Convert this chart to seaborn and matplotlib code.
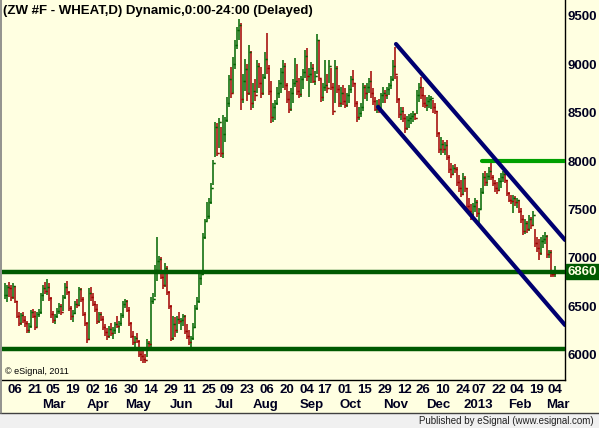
import matplotlib
matplotlib.use("Agg")
import numpy as np
import pandas as pd
import seaborn as sns
import matplotlib.pyplot as plt
from matplotlib.patches import Rectangle
import matplotlib.transforms as mtransforms

# daily wheat bars, 30 Jan 2012 .. 04 Mar 2013 (one entry per trading day)
hi = [6740, 6720,
      6750, 6720, 6740, 6710, 6560, 6440, 6430, 6440, 6400, 6350, 6330, 6460, 6470, 6450, 6440, 6470, 6640, 6720, 6750, 6780,
      6740, 6600, 6450, 6420, 6480, 6540, 6530, 6620, 6740, 6760, 6660, 6500, 6460, 6560, 6580, 6700, 6690, 6600, 6440, 6340, 6690, 6700,
      6640, 6560, 6530, 6440, 6440, 6400, 6320, 6280, 6300, 6330, 6290, 6340, 6400, 6350, 6430, 6560, 6580, 6570, 6490, 6340,
      6250, 6200, 6230, 6150, 6080, 6040, 6010, 6160, 6140, 6600, 6640, 6930, 7220, 7020, 7010, 6870, 6950, 6920, 6660, 6520, 6400, 6390,
      6400, 6440, 6380, 6420, 6410, 6320, 6260, 6200, 6330, 6520, 6600, 6830, 6850, 7260, 7400, 7580, 7620, 7770, 8010, 8400, 8390,
      8440, 8350, 8470, 8450, 8660, 8890, 8970, 9070, 9250, 9380, 9465, 9420, 8900, 9050, 9000, 9200, 9130, 8800, 8850, 9040, 9010,
      8970, 8900, 9120, 9320, 8990, 8830, 8600, 8630, 8760, 8840, 8960, 9040, 9010, 8800, 8720, 8750, 8850, 9060, 9000, 8860, 8880, 8950, 9140,
      9170, 8960, 9020, 9000, 8930, 9310, 9250, 8850, 8800, 9040, 8900, 9040, 8960, 8800, 9040, 8980, 8780, 8760, 8780,
      8750, 8700, 8780, 8880, 8940, 8800, 8620, 8560, 8600, 8800, 8780, 8800, 8860, 8930, 8750, 8660, 8630, 8640, 8700, 8760, 8730, 8760, 8800,
      8880, 9040, 9175, 8880, 8650, 8560, 8560, 8480, 8460, 8480, 8500, 8520, 8500, 8730, 8800, 8870, 8760, 8680, 8660, 8680, 8670,
      8630, 8600, 8520, 8300, 8250, 8220, 8200, 8220, 8060, 7980, 7960, 7970, 7940, 7860, 7800, 7880, 7850, 7720, 7620, 7560,
      7570, 7620, 7600, 7520, 7720, 7880, 7900, 7880, 7940, 8000, 7860, 7800, 7780, 7820, 7880, 7900, 7900, 7800, 7680, 7650, 7650,
      7640, 7620, 7600, 7520, 7440, 7400, 7380, 7440, 7420, 7480, 7300, 7220, 7200, 7220, 7240, 7270, 7240, 7080, 7080,
      6860, 6920]
lo = [6580, 6550,
      6600, 6560, 6580, 6540, 6380, 6300, 6310, 6330, 6290, 6230, 6230, 6280, 6380, 6260, 6290, 6390, 6420, 6560, 6630, 6620,
      6560, 6380, 6330, 6320, 6380, 6420, 6410, 6450, 6580, 6620, 6450, 6360, 6340, 6420, 6480, 6500, 6550, 6400, 6300, 6120, 6150, 6560,
      6500, 6440, 6320, 6330, 6350, 6260, 6200, 6150, 6180, 6200, 6160, 6220, 6280, 6230, 6300, 6380, 6480, 6440, 6300, 6180,
      6100, 6080, 6120, 5980, 5940, 5920, 5920, 5980, 6040, 6070, 6530, 6600, 6760, 6860, 6780, 6680, 6700, 6620, 6470, 6140, 6150, 6190,
      6230, 6320, 6260, 6300, 6220, 6160, 6100, 6070, 6150, 6280, 6460, 6540, 6720, 6820, 7200, 7380, 7400, 7560, 7750, 8040, 8050,
      8130, 8040, 8030, 8200, 8400, 8560, 8650, 8700, 8950, 9150, 9250, 8525, 8600, 8720, 8620, 8680, 8530, 8550, 8620, 8700, 8750,
      8650, 8680, 8850, 8900, 8680, 8390, 8400, 8420, 8580, 8650, 8700, 8750, 8730, 8600, 8500, 8520, 8600, 8760, 8680, 8650, 8660, 8740, 8860,
      8820, 8660, 8800, 8800, 8780, 8900, 8820, 8610, 8620, 8720, 8700, 8800, 8730, 8470, 8600, 8700, 8560, 8560, 8580,
      8550, 8560, 8600, 8700, 8760, 8560, 8400, 8420, 8450, 8520, 8640, 8620, 8700, 8650, 8580, 8520, 8500, 8500, 8540, 8600, 8600, 8640, 8680,
      8740, 8820, 8850, 8600, 8440, 8420, 8400, 8290, 8320, 8340, 8380, 8400, 8420, 8480, 8610, 8640, 8560, 8550, 8520, 8550, 8540,
      8500, 8480, 8250, 8080, 8060, 8080, 8060, 8010, 7880, 7820, 7860, 7880, 7740, 7680, 7630, 7650, 7680, 7500, 7460, 7390,
      7420, 7470, 7420, 7360, 7500, 7660, 7740, 7740, 7800, 7800, 7740, 7680, 7660, 7690, 7720, 7780, 7770, 7640, 7580, 7560, 7460,
      7540, 7520, 7460, 7360, 7240, 7250, 7260, 7280, 7300, 7330, 7110, 7060, 6980, 7030, 7100, 7140, 7000, 7000, 6800,
      6800, 6800]
cl = [6620, 6700,
      6690, 6600, 6710, 6560, 6400, 6330, 6410, 6360, 6330, 6260, 6300, 6440, 6400, 6290, 6420, 6440, 6620, 6690, 6660, 6700,
      6590, 6420, 6360, 6400, 6450, 6500, 6440, 6600, 6700, 6650, 6480, 6400, 6430, 6530, 6520, 6680, 6580, 6420, 6330, 6160, 6640, 6600,
      6530, 6470, 6350, 6420, 6370, 6290, 6240, 6200, 6270, 6230, 6260, 6320, 6300, 6330, 6410, 6530, 6560, 6460, 6330, 6200,
      6130, 6170, 6140, 6010, 5990, 5960, 5950, 6120, 6110, 6560, 6580, 6880, 6970, 6990, 6800, 6720, 6900, 6650, 6500, 6180, 6320, 6260,
      6370, 6350, 6360, 6400, 6250, 6200, 6130, 6170, 6290, 6480, 6560, 6790, 6830, 7220, 7380, 7430, 7580, 7720, 7980, 8350, 8080,
      8400, 8080, 8280, 8420, 8600, 8850, 8700, 9000, 9200, 9350, 9400, 8640, 8830, 8950, 8700, 9120, 8600, 8720, 8680, 8980, 8800,
      8700, 8870, 9050, 8960, 8720, 8450, 8560, 8600, 8700, 8800, 8920, 8980, 8780, 8640, 8540, 8700, 8800, 8820, 8720, 8690, 8850, 8920, 9080,
      8880, 8900, 8960, 8830, 8880, 9250, 8860, 8660, 8760, 8780, 8750, 8980, 8760, 8520, 8960, 8740, 8600, 8700, 8620,
      8580, 8680, 8740, 8850, 8800, 8600, 8450, 8500, 8560, 8760, 8700, 8760, 8820, 8700, 8620, 8540, 8580, 8530, 8680, 8700, 8680, 8740, 8780,
      8850, 8980, 8900, 8640, 8480, 8520, 8440, 8340, 8420, 8440, 8460, 8480, 8440, 8680, 8760, 8680, 8600, 8580, 8620, 8640, 8650,
      8560, 8520, 8290, 8120, 8180, 8120, 8160, 8040, 7920, 7870, 7930, 7920, 7780, 7720, 7660, 7820, 7720, 7540, 7480, 7450,
      7540, 7580, 7460, 7500, 7680, 7840, 7780, 7850, 7900, 7830, 7770, 7720, 7700, 7790, 7840, 7870, 7800, 7670, 7600, 7590, 7620,
      7580, 7600, 7480, 7400, 7280, 7360, 7300, 7400, 7340, 7440, 7150, 7100, 7050, 7180, 7200, 7230, 7040, 7060, 6840,
      6830, 6860]

holidays = ["2012-02-20", "2012-04-06", "2012-05-28", "2012-07-04", "2012-09-03",
            "2012-11-22", "2012-12-25", "2013-01-01", "2013-01-21", "2013-02-18"]

tick_dates = ["2012-02-06", "2012-02-21", "2012-03-05", "2012-03-19", "2012-04-02", "2012-04-16",
              "2012-04-30", "2012-05-14", "2012-05-29", "2012-06-11", "2012-06-25", "2012-07-09",
              "2012-07-23", "2012-08-06", "2012-08-20", "2012-09-04", "2012-09-17", "2012-10-01",
              "2012-10-15", "2012-10-29", "2012-11-12", "2012-11-26", "2012-12-10", "2012-12-24",
              "2013-01-07", "2013-01-22", "2013-02-04", "2013-02-19", "2013-03-04"]
month_keys = ["2012-03", "2012-04", "2012-05", "2012-06", "2012-07", "2012-08", "2012-09",
              "2012-10", "2012-11", "2012-12", "2013-01", "2013-02", "2013-03"]
month_names = ["Mar", "Apr", "May", "Jun", "Jul", "Aug", "Sep", "Oct", "Nov", "Dec", "2013", "Feb", "Mar"]

# drawn studies: support/resistance levels and the down channel (bar index, price)
support_hi = 6860
support_lo = 6065
resist = 8000
resist_start = 238.5
chan_x = [195.5, 280]
chan_upper = [9206, 7186]
chan_x_lo = [186.5, 280]
chan_lower = [8557, 6309]

dates = pd.bdate_range("2012-01-30", "2013-03-04", freq="C", holidays=holidays)
assert len(dates) == len(cl) == len(hi) == len(lo)

bg = "#FFFFE1"
up_col = "#006400"
dn_col = "#A00000"

sns.set_style("white", {"axes.facecolor": bg})
plt.rcParams["font.family"] = ["Liberation Sans", "DejaVu Sans"]
plt.rcParams["font.weight"] = "bold"

fig = plt.figure(figsize=(5.99, 4.28), dpi=100, facecolor=bg)
ax = fig.add_axes([2 / 599, 1 - 380 / 428, 563 / 599, 380 / 428])
ax.set_facecolor(bg)

x = np.arange(len(cl))
c = np.array(cl)
op = np.r_[c[0], c[:-1]]
colors = np.where(c >= op, up_col, dn_col)
ax.vlines(x, lo, hi, colors=colors, lw=1.1, zorder=3)
ax.hlines(op, x - 0.75, x, colors=colors, lw=1.0, zorder=3)
ax.hlines(c, x, x + 0.75, colors=colors, lw=1.0, zorder=3)

ax.axhline(support_hi, color="#005A00", lw=3.2, zorder=4)
ax.axhline(support_lo, color="#005A00", lw=3.2, zorder=4)
ax.plot([resist_start, 281], [resist, resist], color="#00A000", lw=3.0, zorder=4)
sns.lineplot(x=chan_x, y=chan_upper, color="#000070", lw=3.0, ax=ax, zorder=5)
sns.lineplot(x=chan_x_lo, y=chan_lower, color="#000070", lw=3.0, ax=ax, zorder=5)

ax.set_xlim(-1.5, 280)
ax.set_ylim(5742, 9660)

for s in ["top", "left"]:
    ax.spines[s].set_visible(False)
for s in ["bottom", "right"]:
    ax.spines[s].set_color("black")
    ax.spines[s].set_linewidth(1.0)

ax.yaxis.tick_right()
ax.set_yticks([6000, 6500, 7000, 7500, 8000, 8500, 9000, 9500])
ax.set_yticklabels(["6000", "6500", "7000", "7500", "8000", "8500", "9000", "9500"])
ax.tick_params(axis="y", length=0, pad=2, labelsize=9.5, labelcolor="#000020")

ym = dates.strftime("%Y-%m")
month_first = [int(np.argmax(ym == key)) for key in month_keys]

tick_idx = [dates.get_loc(pd.Timestamp(d)) for d in tick_dates]
ax.set_xticks(tick_idx)
ax.set_xticklabels([pd.Timestamp(d).strftime("%d") for d in tick_dates])
ax.tick_params(axis="x", which="major", length=0, pad=3, labelsize=9.5, labelcolor="#000020")
ax.set_xticks([m - 1.5 for m in month_first], minor=True)
ax.tick_params(axis="x", which="minor", length=3, width=1, direction="out", color="black")
ax.set_xlabel("")
ax.set_ylabel("")

trans = mtransforms.blended_transform_factory(ax.transData, ax.transAxes)
for first, name in zip(month_first, month_names):
    ax.text(first + 2.5, -25 / 380, name, transform=trans, ha="center", va="center",
            fontsize=9.5, fontweight="bold", color="#000020", clip_on=False)

ax.text(0.002, 1 - 11 / 380, "(ZW #F - WHEAT,D) Dynamic,0:00-24:00 (Delayed)", transform=ax.transAxes,
        ha="left", va="center", fontsize=9.5, fontweight="bold", color="black")
ax.text(3 / 563, 8 / 380, "\u00a9 eSignal, 2011", transform=ax.transAxes, ha="left", va="center",
        fontsize=6.5, fontweight="normal", color="black")

ytr = mtransforms.blended_transform_factory(ax.transAxes, ax.transData)
ax.text(1 + 3 / 563, support_hi, str(support_hi), transform=ytr, ha="left", va="center",
        fontsize=9.5, fontweight="bold", color=bg, clip_on=False,
        bbox=dict(boxstyle="square,pad=0.12", fc="#005A00", ec="#005A00"))

# footer strip and border
fig.patches.append(Rectangle((0, 0), 1, 15 / 428, transform=fig.transFigure, fc="#F0F0F0",
                             ec="none", zorder=0))
fig.lines.append(plt.Line2D([0, 1], [15.5 / 428, 15.5 / 428], transform=fig.transFigure,
                            color="#404040", lw=1))
fig.lines.append(plt.Line2D([0.8 / 599, 0.8 / 599], [15.5 / 428, 1], transform=fig.transFigure,
                            color="#808080", lw=1.2))
fig.text(594 / 599, 7 / 428, "Published by eSignal (www.esignal.com)", ha="right", va="center",
         fontsize=7, fontweight="normal", color="#202020")

fig.savefig("out.png", dpi=100, facecolor=bg)
